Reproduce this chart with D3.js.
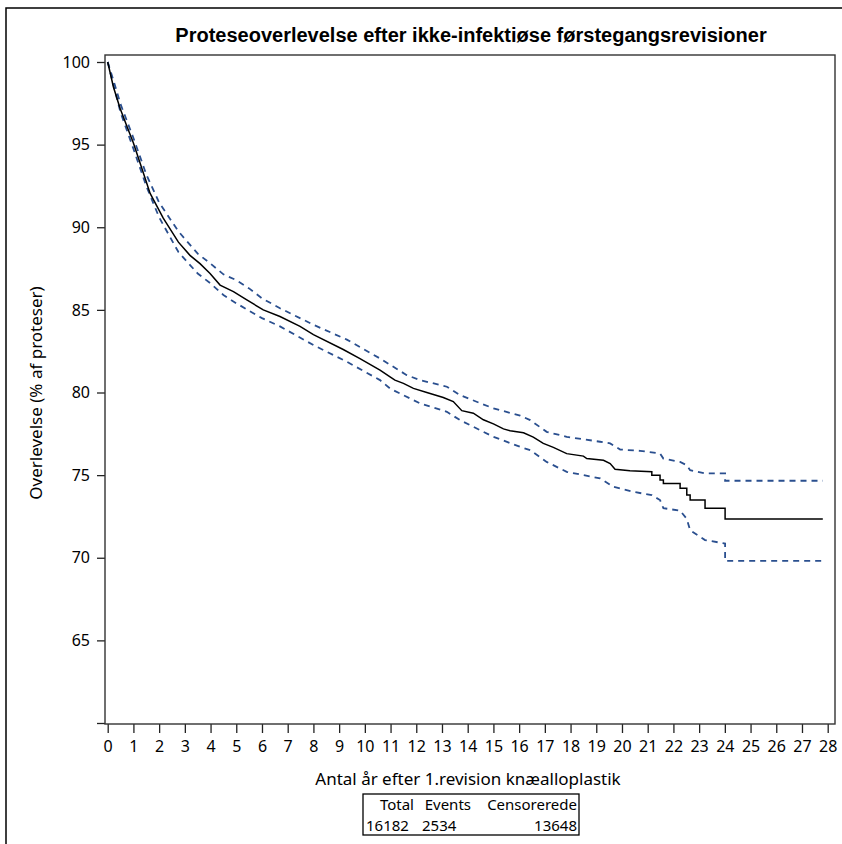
<!DOCTYPE html>
<html>
<head>
<meta charset="utf-8">
<script src="https://cdn.jsdelivr.net/npm/d3@7"></script>
<style>
  body { margin:0; background:#fff; }
  text { font-family: "Noto Sans", "DejaVu Sans", sans-serif; }
</style>
</head>
<body>
<svg></svg>
<script>
// Kaplan-Meier curve (years, % survival)
var survTime = [0, 0.22, 0.48, 0.75, 1.0, 1.32, 1.65, 2.16, 2.75, 3.2, 3.59, 3.98, 4.37, 4.89, 5.41, 6.05, 6.7, 7.48, 8.0, 9.16, 9.81,
                10.59, 10.98, 11.17, 11.5, 11.89, 12.41, 13.05, 13.44, 13.77, 14.22, 14.61, 15.0, 15.39, 15.65, 16.17, 16.55, 16.94,
                17.33, 17.85, 18.5, 18.63, 19.28, 19.54, 19.73, 20.31, 21.16, 21.16, 21.48, 21.48, 21.61, 21.61, 22.26, 22.26,
                22.52, 22.52, 22.65, 22.65, 23.23, 23.23, 24.01, 24.01, 27.81]
var survValue = [100, 98.5, 97.2, 96.1, 95.1, 93.6, 92.05, 90.55, 89.1, 88.3, 87.8, 87.2, 86.5, 86.1, 85.6, 85.0, 84.6, 84.0, 83.5, 82.6, 82.05,
                 81.35, 80.95, 80.75, 80.55, 80.25, 80.0, 79.7, 79.45, 78.9, 78.75, 78.35, 78.1, 77.8, 77.68, 77.56, 77.3, 76.92,
                 76.68, 76.3, 76.15, 76.0, 75.9, 75.7, 75.36, 75.26, 75.2, 75.0, 75.0, 74.7, 74.7, 74.5, 74.5, 74.2,
                 74.2, 73.8, 73.8, 73.5, 73.5, 73.0, 73.0, 72.35, 72.35]

// upper confidence limit
var upperTime = [0, 0.25, 0.5, 1.0, 1.5, 2.0, 2.75, 3.5, 4.0, 4.5, 5.0, 5.5, 6.0, 6.7, 8.0, 9.3, 10.59, 11.63, 12.15, 13.19, 13.7,
                 15.0, 16.04, 16.43, 17.07, 17.85, 19.15, 19.54, 19.93, 20.7, 21.48, 21.61, 22.26, 22.52, 22.65, 23.23, 24.01, 24.01, 27.81]
var upperValue = [100, 98.75, 97.45, 95.4, 93.2, 91.5, 89.75, 88.4, 87.8, 87.15, 86.8, 86.3, 85.7, 85.1, 84.1, 83.2, 82.06, 81.05, 80.75, 80.35, 79.84,
                  79.04, 78.6, 78.33, 77.62, 77.32, 77.02, 76.92, 76.55, 76.47, 76.31, 76.0, 75.8, 75.6, 75.3, 75.1, 75.1, 74.66, 74.66]

// lower confidence limit
var lowerTime = [0, 0.25, 0.5, 1.0, 1.5, 2.0, 2.75, 3.5, 4.0, 4.5, 5.0, 5.5, 6.0, 6.7, 8.0, 9.3, 10.59, 10.98, 12.15, 13.19, 13.7,
                 15.0, 16.04, 16.43, 17.07, 17.85, 19.15, 19.67, 20.44, 21.16, 21.48, 21.61, 22.26, 22.52, 22.65, 23.23, 24.01, 24.01, 27.81]
var lowerValue = [100, 98.45, 96.95, 94.75, 92.5, 90.6, 88.5, 87.2, 86.6, 85.9, 85.4, 84.95, 84.5, 84.0, 82.87, 81.86, 80.75, 80.24, 79.34, 78.83, 78.33,
                  77.32, 76.71, 76.51, 75.8, 75.2, 74.8, 74.29, 73.99, 73.79, 73.49, 73.0, 72.85, 72.35, 71.67, 71.07, 70.86, 69.81, 69.81]

var xTicks = d3.range(0, 29)
var yTicks = [60, 65, 70, 75, 80, 85, 90, 95, 100]

var tableHead = ["Total", "Events", "Censorerede"]
var tableRow = ["16182", "2534", "13648"]

var titleText = "Proteseoverlevelse efter ikke-infektiøse førstegangsrevisioner"
var xTitle = "Antal år efter 1.revision knæalloplastik"
var yTitle = "Overlevelse (% af proteser)"

var mainCode = function(){
    var screen = {width:842, height:844}
    // the plot box
    var box = {left:105, right:835, top:55, bottom:724}

    var svg = d3.select("svg")
        .attr("width", screen.width)
        .attr("height", screen.height)

    // outer frame, only top and left show in the picture
    svg.append("path")
        .attr("d", "M6,844 L6,8 L842,8")
        .attr("fill", "none")
        .attr("stroke", "#000")
        .attr("stroke-width", 1.5)

    var xScale = d3.scaleLinear()
        .domain([0, 28])
        .range([box.left + 2.7, box.right - 7.3])
    var yScale = d3.scaleLinear()
        .domain([60, 100])
        .range([box.bottom - 1, box.top + 7])

    //title is the arial-looking bold one (style, so the css rule doesnt win)
    svg.append("text")
        .attr("x", 471)
        .attr("y", 42)
        .attr("text-anchor", "middle")
        .style("font-family", "'Liberation Sans', Arial, sans-serif")
        .attr("font-weight", "bold")
        .attr("font-size", "20px")
        .text(titleText)

    //axes
    var xAxis = d3.axisBottom(xScale).tickValues(xTicks).tickSize(9).tickPadding(8)
    var yAxis = d3.axisLeft(yScale).tickValues(yTicks).tickSize(8).tickPadding(7)
        .tickFormat(function(d){ return d == 60 ? "" : d })

    svg.append("g")
        .attr("id", "xAxis")
        .attr("transform", "translate(0," + box.bottom + ")")
        .call(xAxis)
    svg.append("g")
        .attr("id", "yAxis")
        .attr("transform", "translate(" + box.left + ",0)")
        .call(yAxis)

    svg.selectAll(".domain").remove()
    svg.selectAll(".tick line").attr("stroke", "#222").attr("stroke-width", 1.3)
    svg.selectAll(".tick text")
        .attr("font-size", "16px")
        .attr("fill", "#000")

    svg.append("rect")
        .attr("x", box.left)
        .attr("y", box.top)
        .attr("width", box.right - box.left)
        .attr("height", box.bottom - box.top)
        .attr("fill", "none")
        .attr("stroke", "#333")
        .attr("stroke-width", 1.4)

    // axis titles
    svg.append("text")
        .attr("x", 468)
        .attr("y", 785)
        .attr("text-anchor", "middle")
        .attr("font-size", "17px")
        .text(xTitle)
    svg.append("text")
        .attr("transform", "translate(42,393) rotate(-90)")
        .attr("text-anchor", "middle")
        .attr("font-size", "17px")
        .text(yTitle)

    var toPoints = function(ts, vs){
        return ts.map(function(t, i){ return [t, vs[i]] })
    }
    var lineGenerator = d3.line()
        .x(function(d){ return xScale(d[0]) })
        .y(function(d){ return yScale(d[1]) })

    //confidence band first so the black line sits on top
    ;[toPoints(upperTime, upperValue), toPoints(lowerTime, lowerValue)].forEach(function(pts){
        svg.append("path")
            .attr("d", lineGenerator(pts))
            .attr("fill", "none")
            .attr("stroke", "#2a4f8f")
            .attr("stroke-width", 1.8)
            .attr("stroke-dasharray", "6,5")
    })
    svg.append("path")
        .attr("d", lineGenerator(toPoints(survTime, survValue)))
        .attr("fill", "none")
        .attr("stroke", "#000")
        .attr("stroke-width", 1.5)

    // little table under the x title
    var tb = svg.append("g").attr("id", "table")
    tb.append("rect")
        .attr("x", 363).attr("y", 794)
        .attr("width", 216).attr("height", 41)
        .attr("fill", "none")
        .attr("stroke", "#000")
        .attr("stroke-width", 1.3)
    var colRight = [414, 471, 577]
    tableHead.forEach(function(h, i){
        tb.append("text")
            .attr("x", colRight[i]).attr("y", 810)
            .attr("text-anchor", "end")
            .attr("font-size", "15px")
            .text(h)
    })
    var rowX = [366, 422, 577]
    var rowAnchor = ["start", "start", "end"]
    tableRow.forEach(function(v, i){
        tb.append("text")
            .attr("x", rowX[i]).attr("y", 831)
            .attr("text-anchor", rowAnchor[i])
            .attr("font-size", "15px")
            .text(v)
    })
}

mainCode()
</script>
</body>
</html>
